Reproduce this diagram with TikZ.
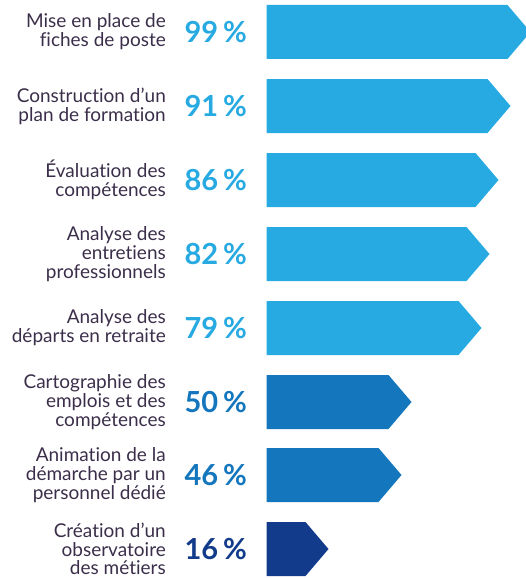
\documentclass[tikz,border=0pt]{standalone}
\usepackage{fontspec}
\setmainfont[Ligatures=NoCommon]{Lato}
\usepackage{tikz}
\usetikzlibrary{calc}
\definecolor{lightblue}{HTML}{27AAE1}
\definecolor{midblue}{HTML}{1476BD}
\definecolor{darkblue}{HTML}{133B8B}
\definecolor{labelgray}{HTML}{3B2E4A}
\tikzset{%
  itemtext/.style = {anchor=east, align=right, text=labelgray,%
                     font=\fontsize{19}{18.8}\selectfont, inner sep=0pt},%
  percent/.style  = {anchor=east, inner sep=0pt,%
                     font=\fontsize{29}{30}\selectfont\bfseries}%
}

\begin{document}
\begin{tikzpicture}[x=1pt, y=1pt]
  \useasboundingbox (0,0) rectangle (526,-578);
  % row 1
  \node[itemtext] (l1) at (166,-32) {Mise en place de\\fiches de poste};
  \node[percent, text=lightblue] (p1) at (247,-32) {99\,\%};
  \fill[lightblue] (266.5,-5) -- ++(241,0) -- ++(23,-27) -- ++(-23,-27) -- ++(-241,0) -- cycle;
  % row 2
  \node[itemtext] (l2) at (166,-106) {Construction d’un\\plan de formation};
  \node[percent, text=lightblue] (p2) at (247,-106) {91\,\%};
  \fill[lightblue] (266.5,-79) -- ++(221,0) -- ++(23,-27) -- ++(-23,-27) -- ++(-221,0) -- cycle;
  % row 3
  \node[itemtext] (l3) at (166,-180) {Évaluation des\\compétences};
  \node[percent, text=lightblue] (p3) at (247,-180) {86\,\%};
  \fill[lightblue] (266.5,-153) -- ++(209,0) -- ++(23,-27) -- ++(-23,-27) -- ++(-209,0) -- cycle;
  % row 4
  \node[itemtext] (l4) at (166,-254) {Analyse des\\entretiens\\professionnels};
  \node[percent, text=lightblue] (p4) at (247,-254) {82\,\%};
  \fill[lightblue] (266.5,-227) -- ++(200,0) -- ++(23,-27) -- ++(-23,-27) -- ++(-200,0) -- cycle;
  % row 5
  \node[itemtext] (l5) at (166,-328) {Analyse des\\départs en retraite};
  \node[percent, text=lightblue] (p5) at (247,-328) {79\,\%};
  \fill[lightblue] (266.5,-301) -- ++(192,0) -- ++(23,-27) -- ++(-23,-27) -- ++(-192,0) -- cycle;
  % row 6
  \node[itemtext] (l6) at (166,-402) {Cartographie des\\emplois et des\\compétences};
  \node[percent, text=midblue] (p6) at (247,-402) {50\,\%};
  \fill[midblue] (266.5,-375) -- ++(122,0) -- ++(23,-27) -- ++(-23,-27) -- ++(-122,0) -- cycle;
  % row 7
  \node[itemtext] (l7) at (166,-475) {Animation de la\\démarche par un\\personnel dédié};
  \node[percent, text=midblue] (p7) at (247,-475) {46\,\%};
  \fill[midblue] (266.5,-448) -- ++(112,0) -- ++(23,-27) -- ++(-23,-27) -- ++(-112,0) -- cycle;
  % row 8
  \node[itemtext] (l8) at (166,-549) {Création d’un\\observatoire\\des métiers};
  \node[percent, text=darkblue] (p8) at (247,-549) {16\,\%};
  \fill[darkblue] (266.5,-522) -- ++(39,0) -- ++(23,-27) -- ++(-23,-27) -- ++(-39,0) -- cycle;
\end{tikzpicture}
\end{document}
